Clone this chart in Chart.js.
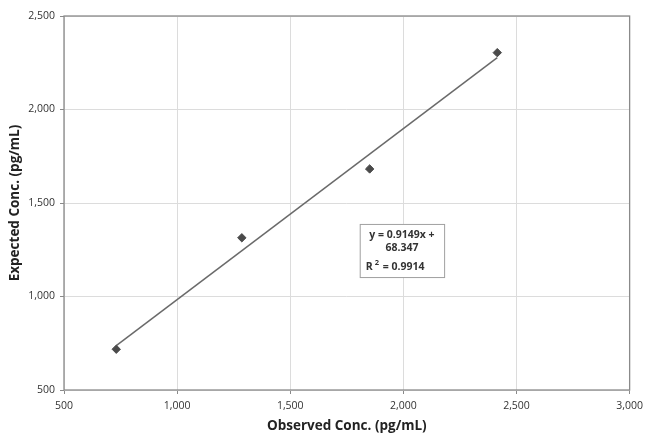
<!DOCTYPE html>
<html>
<head>
<meta charset="utf-8">
<script src="https://cdn.jsdelivr.net/npm/chart.js@4"></script>
<style>
  html, body { margin: 0; padding: 0; background: #fff; }
  #wrap { width: 649px; height: 438px; }
</style>
</head>
<body>
<div id="wrap"><canvas id="c" width="649" height="438"></canvas></div>
<script>
// Data
const observed = [731, 1286, 1851, 2415];
const expected = [718, 1314, 1682, 2304];
const slope = 0.9149;
const intercept = 68.347;
const trendX = [731, 2415];
const eqLines = ["y = 0.9149x +", "68.347", "R\u00b2 = 0.9914"];
const xTicks = [500, 1000, 1500, 2000, 2500, 3000];
const yTicks = [500, 1000, 1500, 2000, 2500];

const FONT = "'Open Sans', 'DejaVu Sans', sans-serif";

const points = observed.map((x, i) => ({ x: x, y: expected[i] }));
const trend = trendX.map(x => ({ x: x, y: slope * x + intercept }));

const fmt = v => Number(v).toLocaleString('en-US');

const framePlugin = {
  id: 'frame',
  afterDraw(chart) {
    const { ctx, chartArea: a, scales } = chart;
    ctx.save();
    ctx.strokeStyle = '#8a8a8a';
    ctx.lineWidth = 1.3;
    ctx.strokeRect(a.left, a.top, a.right - a.left, a.bottom - a.top);
    // equation box
    const x0 = scales.x.getPixelForValue(1807);
    const x1 = scales.x.getPixelForValue(2180);
    const y0 = scales.y.getPixelForValue(1388);
    const y1 = scales.y.getPixelForValue(1104);
    ctx.fillStyle = '#fff';
    ctx.fillRect(x0, y0, x1 - x0, y1 - y0);
    ctx.strokeStyle = '#a0a0a0';
    ctx.lineWidth = 1;
    ctx.strokeRect(x0 + 0.5, y0 + 0.5, x1 - x0, y1 - y0);
    ctx.fillStyle = '#333';
    ctx.font = "bold 10.5px " + FONT;
    ctx.textBaseline = 'middle';
    ctx.textAlign = 'center';
    const cx = (x0 + x1) / 2;
    ctx.fillText(eqLines[0], cx, y0 + 11);
    ctx.fillText(eqLines[1], cx, y0 + 24);
    ctx.textAlign = 'left';
    const t = eqLines[2];
    const base = 'R';
    const rest = t.slice(2);
    const rx = x0 + 6;
    const ry = y0 + 43;
    ctx.fillText(base, rx, ry);
    const bw = ctx.measureText(base).width;
    ctx.font = "bold 7.5px " + FONT;
    ctx.fillText('2', rx + bw + 2, ry - 4);
    const sw = ctx.measureText('2').width;
    ctx.font = "bold 10.5px " + FONT;
    ctx.fillText(rest, rx + bw + sw + 3, ry);
    ctx.restore();
  }
};

new Chart(document.getElementById('c'), {
  type: 'scatter',
  data: {
    datasets: [
      {
        type: 'line',
        data: trend,
        borderColor: '#6a6a6a',
        borderWidth: 1.5,
        pointRadius: 0,
        fill: false,
        order: 2
      },
      {
        data: points,
        pointStyle: 'rectRot',
        pointRadius: 4.2,
        backgroundColor: '#4a4a4a',
        borderColor: '#4a4a4a',
        borderWidth: 1,
        order: 1
      }
    ]
  },
  options: {
    responsive: false,
    animation: false,
    devicePixelRatio: 1,
    layout: { padding: { left: 0, right: 15, top: 16, bottom: 0 } },
    plugins: { legend: { display: false }, tooltip: { enabled: false } },
    scales: {
      x: {
        type: 'linear',
        min: 500, max: 3000,
        afterBuildTicks: s => { s.ticks = xTicks.map(v => ({ value: v })); },
        afterFit: s => { s.height = 48; },
        grid: { color: '#dcdcdc', lineWidth: 1, tickLength: 4, tickColor: '#8a8a8a' },
        border: { display: false },
        ticks: { callback: fmt, color: '#333', font: { family: FONT, size: 10.5 }, padding: 6, maxRotation: 0 },
        title: { display: true, text: 'Observed Conc. (pg/mL)', color: '#222',
                 font: { family: FONT, size: 13.5, weight: 'bold' }, padding: { top: 1 } }
      },
      y: {
        type: 'linear',
        min: 500, max: 2500,
        afterBuildTicks: s => { s.ticks = yTicks.map(v => ({ value: v })); },
        afterFit: s => { s.width = 64; },
        grid: { color: '#dcdcdc', lineWidth: 1, tickLength: 4, tickColor: '#8a8a8a' },
        border: { display: false },
        ticks: { callback: fmt, color: '#333', font: { family: FONT, size: 10.5 }, padding: 5 },
        title: { display: true, text: 'Expected Conc. (pg/mL)', color: '#222',
                 font: { family: FONT, size: 13.5, weight: 'bold' }, padding: { top: 7, bottom: 0 } }
      }
    }
  },
  plugins: [framePlugin]
});
</script>
</body>
</html>
